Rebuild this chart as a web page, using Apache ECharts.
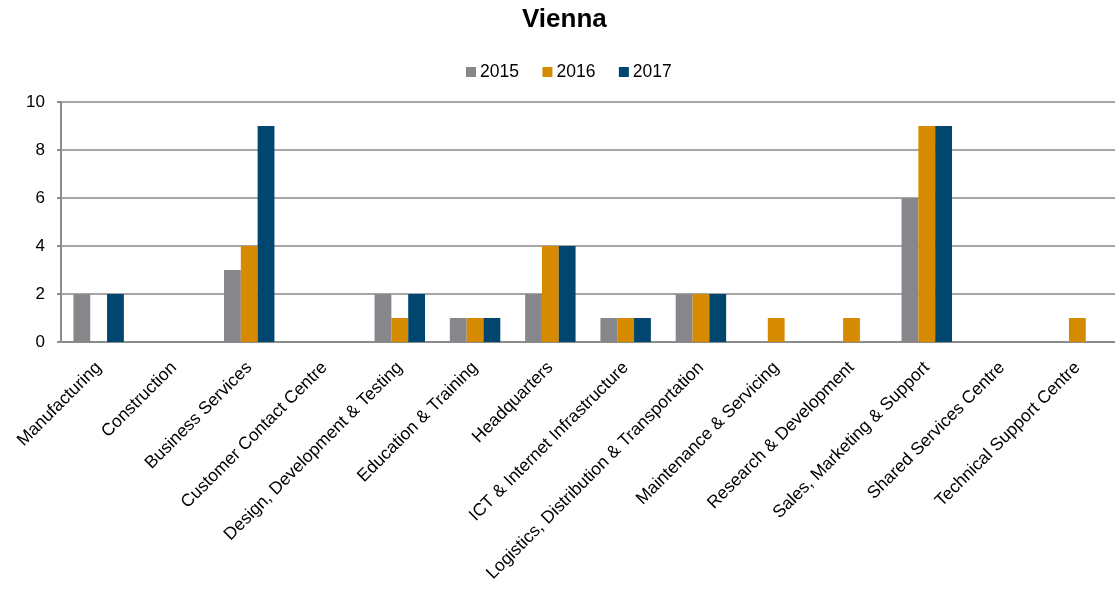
<!DOCTYPE html>
<html>
<head>
<meta charset="utf-8">
<script src="https://cdn.jsdelivr.net/npm/echarts@6/dist/echarts.min.js"></script>
<style>
  html, body { margin: 0; padding: 0; background: #fff; }
  #chart { width: 1115px; height: 593px; }
</style>
</head>
<body>
<div id="chart"></div>
<script>
  const categories = ['Manufacturing', 'Construction', 'Business Services', 'Customer Contact Centre',
    'Design, Development & Testing', 'Education & Training', 'Headquarters', 'ICT & Internet Infrastructure',
    'Logistics, Distribution & Transportation', 'Maintenance & Servicing', 'Research & Development',
    'Sales, Marketing & Support', 'Shared Services Centre', 'Technical Support Centre']
  const years = ['2015', '2016', '2017']
  const values2015 = [2, 0, 3, 0, 2, 1, 2, 1, 2, 0, 0, 6, 0, 0]
  const values2016 = [0, 0, 4, 0, 1, 1, 4, 1, 2, 1, 1, 9, 0, 1]
  const values2017 = [2, 0, 9, 0, 2, 1, 4, 1, 2, 0, 0, 9, 0, 0]
  const colors = ['#87878b', '#d68a00', '#00466e']

  const font = 'Liberation Sans, Arial, sans-serif'
  let chart = echarts.init(document.getElementById('chart'))
  let option = {
    animation: false,
    color: colors,
    title: {
      text: 'Vienna',
      left: 517,
      top: 2,
      textStyle: {fontFamily: font, fontSize: 26, fontWeight: 'bold', color: '#000'}
    },
    legend: {
      data: years,
      top: 58,
      left: 461,
      itemWidth: 10,
      itemHeight: 10,
      itemGap: 23.5,
      icon: 'rect',
      textStyle: {fontFamily: font, fontSize: 17.5, color: '#000', padding: [0, 0, 0, -1]}
    },
    grid: {left: 61, right: 0, top: 102, bottom: 251, containLabel: false},
    xAxis: {
      type: 'category',
      data: categories,
      axisLine: {lineStyle: {color: '#8c8c8c', width: 2}},
      axisTick: {alignWithLabel: false, length: 5, lineStyle: {color: '#8c8c8c', width: 2}},
      axisLabel: {rotate: 45, interval: 0, margin: 23, fontFamily: font, fontSize: 17.5, color: '#000'}
    },
    yAxis: {
      type: 'value',
      min: 0,
      max: 10,
      interval: 2,
      axisLine: {show: true, lineStyle: {color: '#8c8c8c', width: 2}},
      axisTick: {show: true, length: 4, lineStyle: {color: '#8c8c8c', width: 2}},
      axisLabel: {margin: 16, fontFamily: font, fontSize: 17, color: '#000'},
      splitLine: {lineStyle: {color: '#a6a6a6', width: 2}}
    },
    series: [
      {name: '2015', type: 'bar', data: values2015, barGap: '0%', barCategoryGap: '33%'},
      {name: '2016', type: 'bar', data: values2016, barGap: '0%', barCategoryGap: '33%'},
      {name: '2017', type: 'bar', data: values2017, barGap: '0%', barCategoryGap: '33%'}
    ]
  }
  chart.setOption(option)
</script>
</body>
</html>
